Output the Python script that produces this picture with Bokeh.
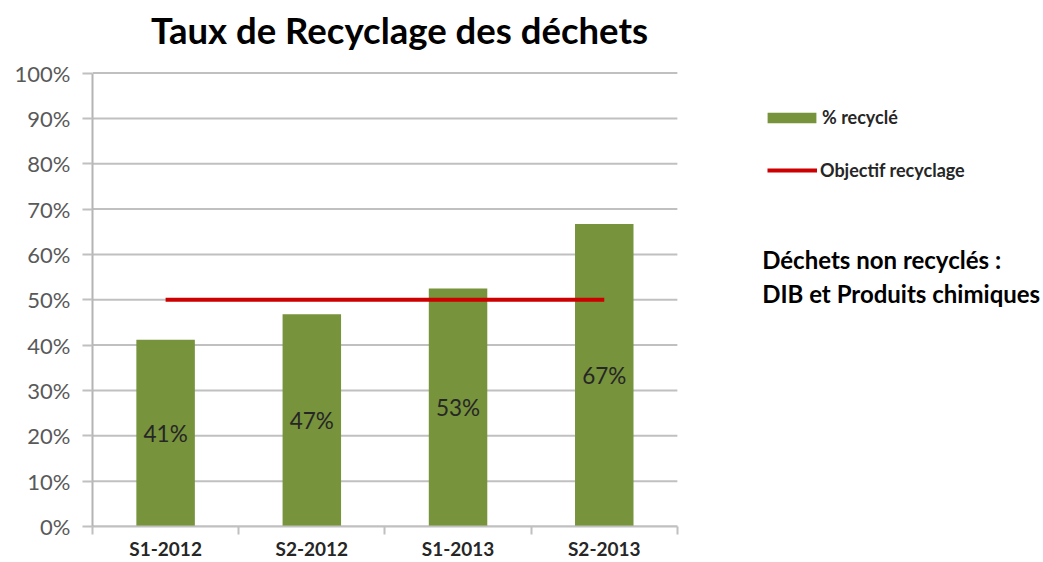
from bokeh.plotting import figure
from bokeh.models import Range1d, FixedTicker, Label, NumeralTickFormatter, Legend, LegendItem
from bokeh.embed import file_html
from bokeh.resources import INLINE

title = "Taux de Recyclage des déchets"
categories = ["S1-2012", "S2-2012", "S1-2013", "S2-2013"]
recycled = [0.412, 0.468, 0.525, 0.667]
recycled_labels = ["41%", "47%", "53%", "67%"]
objective = [0.5, 0.5, 0.5, 0.5]
y_ticks = [0, 0.1, 0.2, 0.3, 0.4, 0.5, 0.6, 0.7, 0.8, 0.9, 1.0]
note = ["Déchets non recyclés :", "DIB et Produits chimiques"]

n = len(categories)
xc = [i + 0.5 for i in range(n)]

# the chart area takes ~61.5% of the frame width and ~86% of its height;
# the rest holds the title, legend and note
x_end = n / 0.615
y_end = 1.16

p = figure(width=1043, height=562, output_backend="svg", toolbar_location=None,
           x_range=Range1d(0, x_end), y_range=Range1d(0, y_end),
           min_border_left=92, min_border_right=0, min_border_top=0, min_border_bottom=30)
p.outline_line_color = None
p.xgrid.grid_line_color = None
p.ygrid.grid_line_color = None

GREEN = "#77933c"
RED = "#cc0000"
GRID = "#c0c0c0"

p.add_layout(Label(x=n / 2 + 0.1, y=1.095, text=title, text_font="Lato",
                   text_font_style="bold", text_font_size="36.5px", text_align="center",
                   text_baseline="alphabetic", text_color="#000000"))

# horizontal gridlines limited to the chart area
p.segment(x0=[0] * len(y_ticks), x1=[n] * len(y_ticks), y0=y_ticks, y1=y_ticks,
          line_color=GRID, line_width=2, level="underlay")

bars = p.vbar(x=xc, top=recycled, width=0.4, fill_color=GREEN, line_color=None)
goal = p.line(x=xc, y=objective, line_color=RED, line_width=4)

p.text(x=xc, y=[v / 2 for v in recycled], text=recycled_labels, text_align="center",
       text_baseline="middle", text_font_size="22.5px", text_color="#262626",
       text_font={"value": "Lato"})

# y axis
p.yaxis.bounds = (0, 1)
p.yaxis.ticker = FixedTicker(ticks=y_ticks)
p.yaxis.formatter = NumeralTickFormatter(format="0%")
p.yaxis.major_label_text_font = "Lato"
p.yaxis.major_label_text_font_size = "22px"
p.yaxis.major_label_text_color = "#595959"
p.yaxis.major_tick_in = 0
p.yaxis.major_tick_out = 10
p.yaxis.major_tick_line_color = GRID
p.yaxis.major_tick_line_width = 2
p.yaxis.minor_tick_line_color = None
p.yaxis.axis_line_color = "#b4b4b4"
p.yaxis.axis_line_width = 2
p.yaxis.major_label_standoff = 12

# x axis
p.xaxis.bounds = (0, n)
p.xaxis.ticker = FixedTicker(ticks=xc, minor_ticks=list(range(n + 1)))
p.xaxis.major_label_overrides = {x: c for x, c in zip(xc, categories)}
p.xaxis.major_tick_in = 0
p.xaxis.major_tick_out = 0
p.xaxis.minor_tick_in = 0
p.xaxis.minor_tick_out = 8
p.xaxis.minor_tick_line_color = GRID
p.xaxis.minor_tick_line_width = 2
p.xaxis.axis_line_color = GRID
p.xaxis.axis_line_width = 2
p.xaxis.major_label_text_font = "Lato"
p.xaxis.major_label_text_font_style = "bold"
p.xaxis.major_label_text_font_size = "19px"
p.xaxis.major_label_text_color = "#262626"
p.xaxis.major_label_standoff = 2


def make_legend(label, renderer, loc, gw, gh, standoff):
    lg = Legend(items=[LegendItem(label=label, renderers=[renderer])], location=loc,
                padding=0, margin=0, border_line_alpha=0, background_fill_alpha=0,
                glyph_width=gw, glyph_height=gh, label_height=22, spacing=0,
                label_standoff=standoff, label_text_font="Lato", label_text_font_style="bold",
                label_text_font_size="18px", label_text_color="#262626")
    p.add_layout(lg)


make_legend("% recyclé", bars, (669, 398), 61, 13, -2)
make_legend("Objectif recyclage", goal, (675, 345), 50, 10, 3)

for txt, yy in zip(note, [0.588, 0.514]):
    p.add_layout(Label(x=4.58, y=yy, text=txt, text_font="Lato", text_font_style="bold",
                       text_font_size="24px", text_baseline="middle", text_color="#000000"))

open("out.html", "w").write(file_html(p, INLINE))
